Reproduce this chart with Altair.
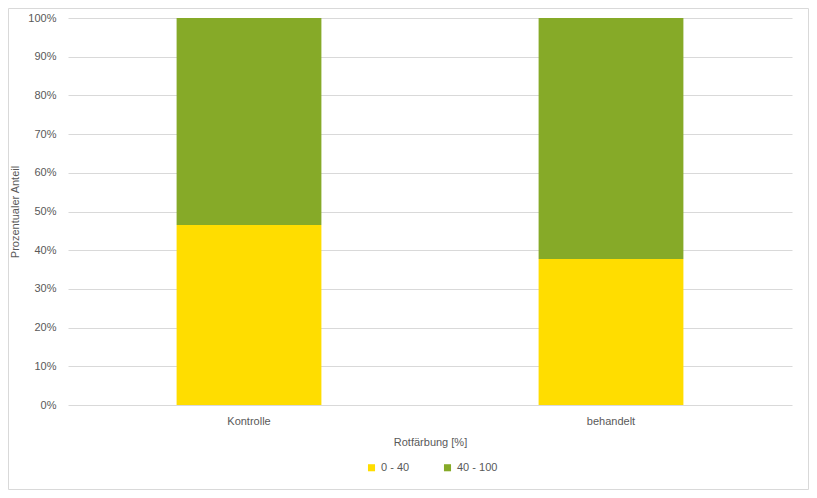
import altair as alt
import pandas as pd

groups = ["Kontrolle", "behandelt"]
classes = ["0 - 40", "40 - 100"]
low_share = [46.5, 37.7]      # 0 - 40
high_share = [53.5, 62.3]     # 40 - 100
colors = ["#FFDD00", "#86AA28"]

rows = []
for g, lo, hi in zip(groups, low_share, high_share):
    rows.append({"Gruppe": g, "Klasse": classes[0], "Anteil": lo, "ord": 0})
    rows.append({"Gruppe": g, "Klasse": classes[1], "Anteil": hi, "ord": 1})
df = pd.DataFrame(rows)

W, H = 724, 387
PL, PT = 60, 10
TOTW, TOTH = 801, 482
FONT = "Liberation Sans"
GREY = "#595959"

bars = alt.Chart(df).mark_bar().encode(
    x=alt.X("Gruppe:N", sort=groups,
            scale=alt.Scale(paddingInner=0.6, paddingOuter=0.3),
            axis=alt.Axis(title="Rotfärbung [%]", labelAngle=0, domain=False, ticks=False,
                          labelPadding=10, titlePadding=10, labelFontSize=11, titleFontSize=11,
                          labelColor=GREY, titleColor=GREY, labelFont=FONT, titleFont=FONT,
                          titleFontWeight="normal")),
    y=alt.Y("Anteil:Q", stack="zero",
            scale=alt.Scale(domain=[0, 100], nice=False),
            axis=alt.Axis(title="Prozentualer  Anteil", values=list(range(0, 101, 10)),
                          labelExpr="datum.value + '%'", domain=False, ticks=False,
                          labelPadding=12, titlePadding=7, gridColor="#D9D9D9",
                          labelFontSize=11, titleFontSize=11, labelColor=GREY, titleColor=GREY,
                          labelFont=FONT, titleFont=FONT, titleFontWeight="normal")),
    color=alt.Color("Klasse:N", sort=classes,
                    scale=alt.Scale(domain=classes, range=colors),
                    legend=alt.Legend(title=None, orient="none", direction="horizontal",
                                      legendX=298, legendY=444, symbolType="square",
                                      symbolSize=50, symbolStrokeWidth=0, columnPadding=32,
                                      labelFontSize=11, labelColor=GREY, labelFont=FONT,
                                      symbolOpacity=1)),
    order=alt.Order("ord:Q", sort="ascending"),
)

border = alt.Chart(pd.DataFrame({"a": [0]})).mark_rect(
    fill=None, stroke="#D9D9D9", strokeWidth=1
).encode(
    x=alt.value(-PL + 0.5), x2=alt.value(TOTW - PL - 0.5),
    y=alt.value(-PT + 0.5), y2=alt.value(TOTH - PT - 0.5),
)

chart = alt.layer(bars, border).properties(
    width=W, height=H,
    autosize=alt.AutoSizeParams(type="none"),
    padding={"left": PL, "top": PT, "right": TOTW - PL - W, "bottom": TOTH - PT - H},
).configure_view(stroke=None)

chart.save("out.html", embed_options={"renderer": "svg", "actions": False})
